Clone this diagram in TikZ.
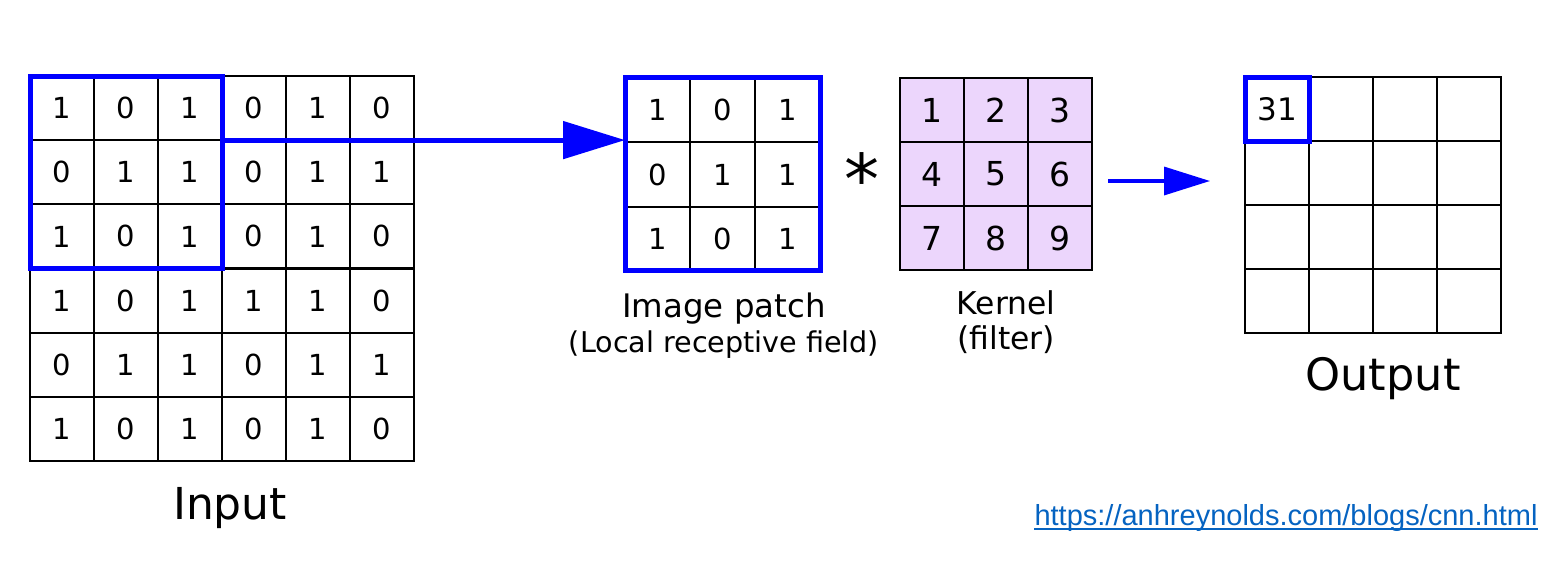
\documentclass[tikz,border=0pt]{standalone}
\usepackage{fontspec}
\setmainfont{DejaVu Sans}
\newfontfamily\linkfont{Liberation Sans}
\usetikzlibrary{arrows.meta}
\definecolor{kernelpurple}{RGB}{236,214,252}
\definecolor{linkblue}{RGB}{5,99,193}

\begin{document}
\begin{tikzpicture}[x=0.5pt,y=-0.5pt]\tikzstyle{every node}+=[inner sep=0pt]
  \tikzstyle{cell}=[draw=black,line width=1pt,outer sep=0pt,minimum size=32pt]
  \tikzstyle{frame}=[draw=blue,line width=2.5pt]
  \useasboundingbox (0,0) rectangle (1556,579);
  % input
  \foreach \vals [count=\r] in {{1,0,1,0,1,0},{0,1,1,0,1,1},{1,0,1,0,1,0},{1,0,1,1,1,0},{0,1,1,0,1,1},{1,0,1,0,1,0}}
    \foreach \v [count=\c] in \vals
      \node [cell,font=\fontsize{14.5}{17}\selectfont] (in-\r-\c) at ({30+64*\c-32},{76+64.17*\r-32.08}) {\v};
  \draw [frame] (in-1-1.north west) rectangle (in-3-3.south east);
  \node [anchor=base,font=\fontsize{22}{26}\selectfont] (inlbl) at (230,519) {Input};
  % patch
  \foreach \vals [count=\r] in {{1,0,1},{0,1,1},{1,0,1}}
    \foreach \v [count=\c] in \vals
      \node [cell,minimum width=32.5pt,minimum height=32.17pt,font=\fontsize{14.5}{17}\selectfont] (pa-\r-\c) at ({625+65*\c-32.5},{78+64.33*\r-32.17}) {\v};
  \draw [frame] (pa-1-1.north west) rectangle (pa-3-3.south east);
  \draw [blue,line width=2.5pt,-{Triangle[length=31pt,width=18.5pt]}] (in-1-3.south east) -- (in-1-3.south east -| pa-1-1.west);
  \node [anchor=base,font=\fontsize{16.2}{19}\selectfont] (patchlbl) at (724,317) {Image patch};
  \node [anchor=base,font=\fontsize{14.3}{17}\selectfont] (patchsub) at (724,352) {(Local receptive field)};
  % kernel
  \node [anchor=base,font=\fontsize{35}{40}\selectfont] (conv) at (862,204) {*};
  \foreach \r in {1,2,3}
    \foreach \c in {1,2,3} {
      \pgfmathtruncatemacro\k{3*(\r-1)+\c}
      \node [cell,fill=kernelpurple,font=\fontsize{16.5}{19}\selectfont] (ke-\r-\c) at ({900+64*\c-32},{78+64*\r-32}) {\k};
    }
  \node [anchor=base,font=\fontsize{15.7}{19}\selectfont] (kernellbl) at (1006,314) {Kernel};
  \node [anchor=base,font=\fontsize{15.7}{19}\selectfont] (kernelsub) at (1006,349) {(filter)};
  % output
  \coordinate (a2s) at (1108,181);
  \coordinate (a2e) at (1210,181);
  \draw [blue,line width=1.7pt,-{Triangle[length=23pt,width=14pt]}] (a2s) -- (a2e);
  \foreach \r in {1,...,4}
    \foreach \c in {1,...,4}
      \node [cell] (out-\r-\c) at ({1245+64*\c-32},{77+64*\r-32}) {};
  \node [font=\fontsize{15.5}{18}\selectfont] (val) at (out-1-1) {31};
  \draw [frame] (out-1-1.north west) rectangle (out-1-1.south east);
  \node [anchor=base,font=\fontsize{22.3}{26}\selectfont] (outlbl) at (1383,390) {Output};
  % source
  \node [anchor=base,font=\linkfont\fontsize{14.5}{17}\selectfont,text=linkblue] (url) at (1286,525) {https://anhreynolds.com/blogs/cnn.html};
  \draw [linkblue,line width=1pt] ([yshift=-2.2pt]url.base west) -- ([yshift=-2.2pt]url.base east);
\end{tikzpicture}
\end{document}
